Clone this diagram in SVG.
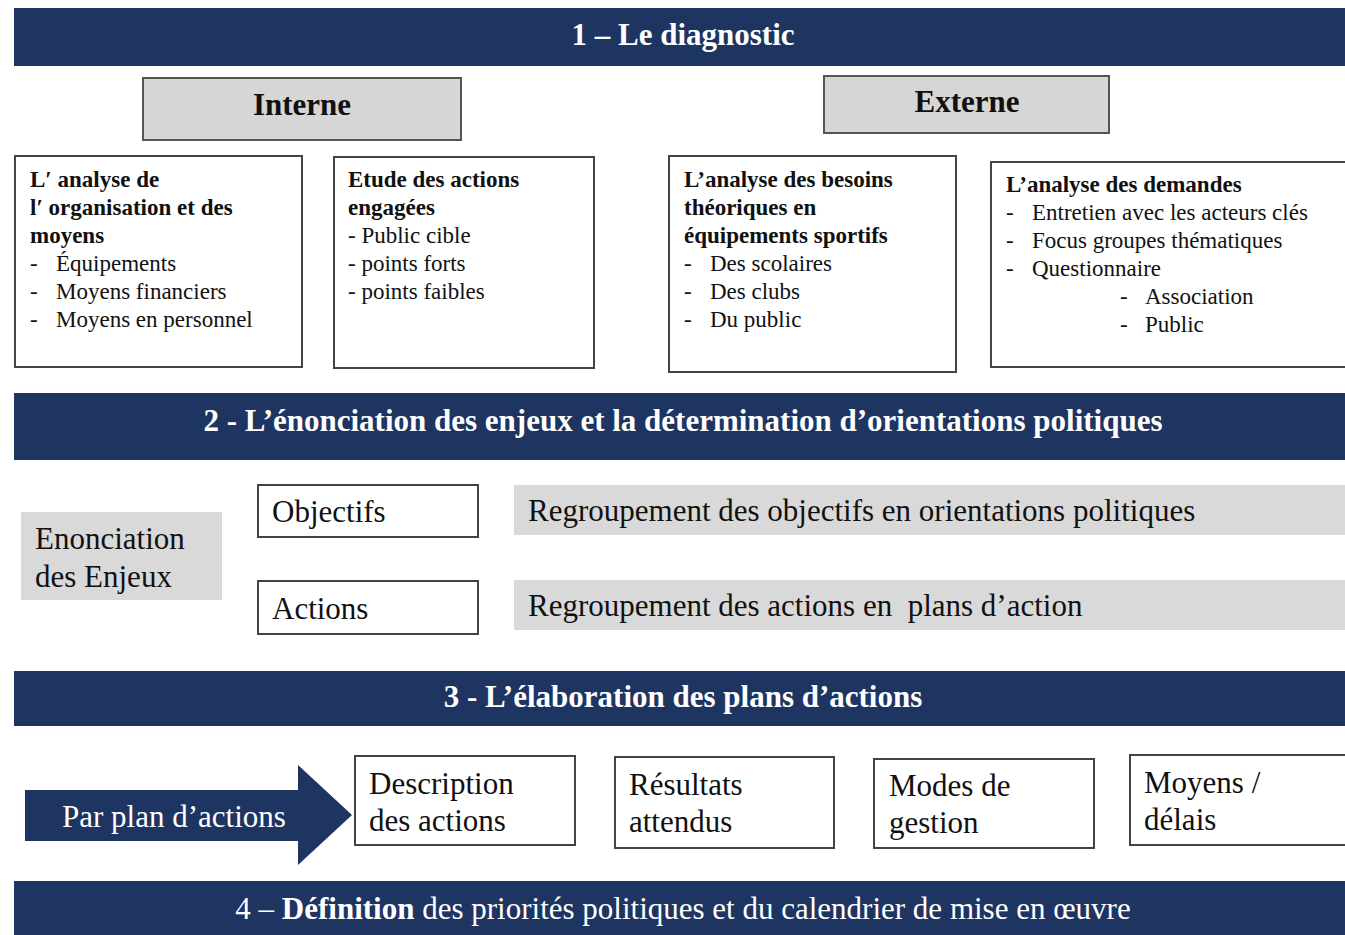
<svg xmlns="http://www.w3.org/2000/svg" width="1345" height="935" viewBox="0 0 1345 935">
<style>
text{font-family:"Liberation Serif","Times New Roman",serif;fill:#111}
.ban{fill:#1e3461}
.bt{fill:#fff;font-weight:bold;font-size:31px;text-anchor:middle}
.hdr{fill:#d6d6d6;stroke:#555;stroke-width:2}
.ht{font-weight:bold;font-size:31px;text-anchor:middle}
.box{fill:#fff;stroke:#444;stroke-width:2}
.s{font-size:23px}
.b{font-weight:bold}
.grey{fill:#d9d9d9}
.l{font-size:31px}
.w{fill:#fff}
</style>
<rect width="1345" height="935" fill="#fff"/>
<g id="banner1"><rect class="ban" x="14" y="8" width="1331" height="58"/><text class="bt" x="683" y="45">1 – Le diagnostic</text></g>
<g id="interne"><rect class="hdr" x="143" y="78" width="318" height="62"/><text class="ht" x="302" y="115">Interne</text></g>
<g id="externe"><rect class="hdr" x="824" y="76" width="285" height="57"/><text class="ht" x="967" y="112">Externe</text></g>
<g id="boxA"><rect class="box" x="15" y="156" width="287" height="211"/>
<text class="s"><tspan class="b" x="30" y="187">L′ analyse de</tspan><tspan class="b" x="30" y="215">l′ organisation et des</tspan><tspan class="b" x="30" y="243">moyens</tspan><tspan x="30" y="271">-</tspan><tspan x="56" y="271">Équipements</tspan><tspan x="30" y="299">-</tspan><tspan x="56" y="299">Moyens financiers</tspan><tspan x="30" y="327">-</tspan><tspan x="56" y="327">Moyens en personnel</tspan></text></g>
<g id="boxB"><rect class="box" x="334" y="157" width="260" height="211"/>
<text class="s"><tspan class="b" x="348" y="187">Etude des actions</tspan><tspan class="b" x="348" y="215">engagées</tspan><tspan x="348" y="243">- Public cible</tspan><tspan x="348" y="271">- points forts</tspan><tspan x="348" y="299">- points faibles</tspan></text></g>
<g id="boxC"><rect class="box" x="669" y="156" width="287" height="216"/>
<text class="s"><tspan class="b" x="684" y="187">L’analyse des besoins</tspan><tspan class="b" x="684" y="215">théoriques en</tspan><tspan class="b" x="684" y="243">équipements sportifs</tspan><tspan x="684" y="271">-</tspan><tspan x="710" y="271">Des scolaires</tspan><tspan x="684" y="299">-</tspan><tspan x="710" y="299">Des clubs</tspan><tspan x="684" y="327">-</tspan><tspan x="710" y="327">Du public</tspan></text></g>
<g id="boxD"><rect class="box" x="991" y="162" width="360" height="205"/>
<text class="s"><tspan class="b" x="1006" y="192">L’analyse des demandes</tspan><tspan x="1006" y="220">-</tspan><tspan x="1032" y="220">Entretien avec les acteurs clés</tspan><tspan x="1006" y="248">-</tspan><tspan x="1032" y="248">Focus groupes thématiques</tspan><tspan x="1006" y="276">-</tspan><tspan x="1032" y="276">Questionnaire</tspan><tspan x="1120" y="304">-</tspan><tspan x="1145" y="304">Association</tspan><tspan x="1120" y="332">-</tspan><tspan x="1145" y="332">Public</tspan></text></g>
<g id="banner2"><rect class="ban" x="14" y="393" width="1331" height="67"/><text class="bt" x="683" y="431">2 - L’énonciation des enjeux et la détermination d’orientations politiques</text></g>
<g id="enjeux"><rect class="grey" x="21" y="512" width="201" height="88"/><text class="l"><tspan x="35" y="549">Enonciation</tspan><tspan x="35" y="587">des Enjeux</tspan></text></g>
<g id="objectifs"><rect class="box" x="258" y="485" width="220" height="52"/><text class="l" x="272" y="522">Objectifs</text></g>
<g id="actions"><rect class="box" x="258" y="581" width="220" height="53"/><text class="l" x="272" y="619">Actions</text></g>
<g id="regroup1"><rect class="grey" x="514" y="485" width="831" height="50"/><text class="l" x="528" y="521">Regroupement des objectifs en orientations politiques</text></g>
<g id="regroup2"><rect class="grey" x="514" y="580" width="831" height="50"/><text class="l" x="528" y="616" xml:space="preserve">Regroupement des actions en  plans d’action</text></g>
<g id="banner3"><rect class="ban" x="14" y="671" width="1331" height="55"/><text class="bt" x="683" y="707">3 - L’élaboration des plans d’actions</text></g>
<g id="arrow"><path class="ban" d="M25 790 H298 V765 L352 815 L298 865 V841 H25 Z"/><text class="l w" x="62" y="827">Par plan d’actions</text></g>
<g id="description"><rect class="box" x="355" y="756" width="220" height="89"/><text class="l"><tspan x="369" y="794">Description</tspan><tspan x="369" y="831">des actions</tspan></text></g>
<g id="resultats"><rect class="box" x="615" y="757" width="219" height="91"/><text class="l"><tspan x="629" y="795">Résultats</tspan><tspan x="629" y="832">attendus</tspan></text></g>
<g id="modes"><rect class="box" x="874" y="759" width="220" height="89"/><text class="l"><tspan x="889" y="796">Modes de</tspan><tspan x="889" y="833">gestion</tspan></text></g>
<g id="moyens"><rect class="box" x="1130" y="755" width="230" height="90"/><text class="l"><tspan x="1144" y="793">Moyens /</tspan><tspan x="1144" y="830">délais</tspan></text></g>
<g id="banner4"><rect class="ban" x="14" y="881" width="1331" height="54"/><text x="683" y="919" style="fill:#fff;font-size:31px;text-anchor:middle">4 – <tspan font-weight="bold">Définition</tspan> des priorités politiques et du calendrier de mise en œuvre</text></g>
<g id="connectors"></g>
</svg>
